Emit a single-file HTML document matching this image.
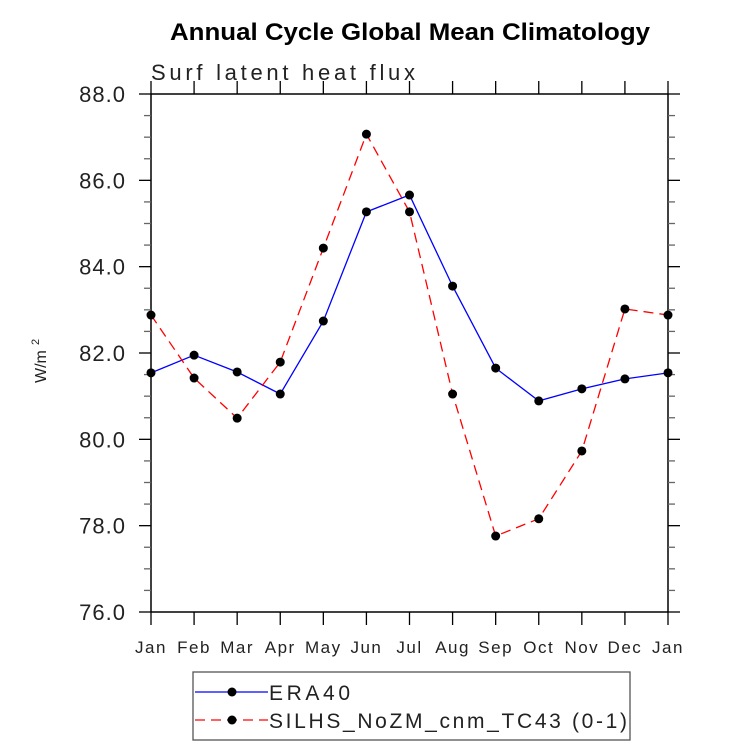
<!DOCTYPE html>
<html><head><meta charset="utf-8"><style>
body{margin:0;background:#fff;width:733px;height:748px;overflow:hidden}
svg text{font-family:"Liberation Sans",sans-serif}
</style></head><body>
<svg id="c" width="733" height="748"></svg>
<script>
const months=["Jan","Feb","Mar","Apr","May","Jun","Jul","Aug","Sep","Oct","Nov","Dec","Jan"];
const era40=[81.54,81.95,81.56,81.05,82.74,85.27,85.66,83.55,81.65,80.89,81.17,81.4,81.54];
const silhs=[82.88,81.42,80.49,81.79,84.43,87.07,85.27,81.05,77.76,78.16,79.73,83.02,82.88];
const yTicks=["76.0","78.0","80.0","82.0","84.0","86.0","88.0"];
const NS="http://www.w3.org/2000/svg";
const svg=document.getElementById('c');
const X0=151,X1=668,Y0=612,Y1=94,VMIN=76,VMAX=88;
const xs=i=>X0+(X1-X0)*i/(months.length-1);
const ys=v=>Y0-(v-VMIN)/(VMAX-VMIN)*(Y0-Y1);
function el(t,a,txt){const e=document.createElementNS(NS,t);for(const k in a)e.setAttribute(k,a[k]);if(txt!=null)e.textContent=txt;svg.appendChild(e);return e;}
let e;
e=el('text',{x:170,y:40,'font-size':24,'font-weight':'bold',textLength:480,lengthAdjust:'spacingAndGlyphs'},'Annual Cycle Global Mean Climatology');

e=el('text',{x:151,y:80,'font-size':22,fill:'#222',textLength:264,lengthAdjust:'spacing'},'Surf latent heat flux');

e=el('text',{x:0,y:0,'font-size':16,fill:'#222',transform:'translate(46,383) rotate(-90)'},'W/m');

el('text',{x:0,y:0,'font-size':11,fill:'#222',transform:'translate(39,345) rotate(-90)'},'2');
// frame
e=el('rect',{x:X0,y:Y1,width:X1-X0,height:Y0-Y1,fill:'none',stroke:'#000','stroke-width':1.5});

for(let v=VMIN;v<=VMAX+0.001;v+=0.5){const y=ys(v);const maj=Math.abs(v%2)<0.01;const L=maj?12:7;
el('line',{x1:X0-L,x2:X0,y1:y,y2:y,stroke:maj?'#000':'#666','stroke-width':1.3});
el('line',{x1:X1,x2:X1+L,y1:y,y2:y,stroke:maj?'#000':'#666','stroke-width':1.3});}
yTicks.forEach(t=>{e=el('text',{x:126,y:ys(parseFloat(t))+8,'text-anchor':'end','font-size':22,fill:'#222','letter-spacing':'1'},t);
});
months.forEach((m,i)=>{const x=xs(i);
el('line',{x1:x,x2:x,y1:Y0,y2:Y0+13,stroke:'#000','stroke-width':1.3});
el('line',{x1:x,x2:x,y1:Y1-13,y2:Y1,stroke:'#000','stroke-width':1.3});
e=el('text',{x:x,y:653,'text-anchor':'middle','font-size':17,fill:'#222','letter-spacing':'1.5'},m);
});
function series(data,color,dash,name){
e=el('polyline',{points:data.map((v,i)=>xs(i)+','+ys(v)).join(' '),fill:'none',stroke:color,'stroke-width':1.3,'stroke-dasharray':dash});

data.forEach((v,i)=>{e=el('circle',{cx:xs(i),cy:ys(v),r:4.5,fill:'#000'});
});}
series(era40,'#0000ff','none','era40');
series(silhs,'#ff0000','10,6','silhs');
e=el('rect',{x:193,y:672,width:437,height:68,fill:'none',stroke:'#555','stroke-width':1.3});

el('line',{x1:195,x2:268,y1:692,y2:692,stroke:'#0000ff','stroke-width':1.3});
el('circle',{cx:232,cy:692,r:4.5,fill:'#000'});
e=el('text',{x:269,y:700,'font-size':21,fill:'#222',textLength:81,lengthAdjust:'spacing'},'ERA40');

el('line',{x1:195,x2:268,y1:720,y2:720,stroke:'#ff0000','stroke-width':1.3,'stroke-dasharray':'10,6'});
el('circle',{cx:232,cy:720,r:4.5,fill:'#000'});
e=el('text',{x:269,y:728,'font-size':21,fill:'#222',textLength:358,lengthAdjust:'spacing'},'SILHS_NoZM_cnm_TC43 (0-1)');

</script>
</body></html>
